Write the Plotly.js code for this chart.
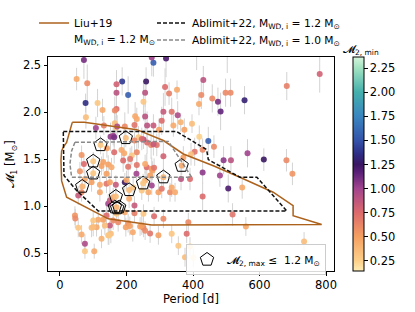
<!DOCTYPE html>
<html><head><meta charset="utf-8">
<script src="https://cdn.plot.ly/plotly-3.0.1.min.js"></script>
<style>html,body{margin:0;padding:0;background:#fff}</style>
</head><body><div id="chart" style="width:415px;height:312px"></div>
<script>
// ---- data ----
const period = [72,281,276,319,50,82,187,259,170,170,205,256,316,328,352,77,113,251,128,170,78,256,231,311,336,354,431,425,418,458,475,498,513,483,555,682,781,411,503,226,165,
363,341,306,108,132,165,169,195,224,262,281,298,374,397,152,160,236,274,291,262,419,446,463,429,405,394,163,172,224,251,
163,193,216,190,65,311,564,492,514,613,681,141,185,231,211,145,125,231,261,72,140,60,371,246,281,130,155,205,256,276,278,271,283,429,481,699,230,
95,75,120,140,168,195,200,220,246,266,276,256,296,306,331,346,364,391,336,55,65,145,150,160,224,208,150,120,506,548,429,
519,559,734,401,391,356,376,381,386,336,296,271,251,241,219,198,205,150,153,145,125,110,95,75,55,65,75,224,195,170,140,130,160,175,115,100,135,210,246,256,45,46,103,100,147,311,283,251,
122,198,100,100,67,168,170,208,250,311,366];
const m1 = [2.557,2.53,2.585,2.575,2.355,2.31,2.33,2.33,2.30,2.21,2.185,2.21,2.27,2.20,2.24,2.10,2.10,2.114,2.025,2.036,1.947,1.957,1.93,2.007,2.007,1.97,2.345,2.185,2.089,2.149,2.114,2.21,2.21,2.01,2.13,2.28,2.41,2.75,2.72,1.96,2.02,
1.894,1.86,1.91,1.834,1.86,1.883,1.84,1.85,1.866,1.86,1.86,1.816,1.816,1.88,1.741,1.75,1.734,1.653,1.653,1.68,1.741,1.696,1.635,1.603,1.58,1.553,1.734,1.85,1.70,1.71,
1.574,1.564,1.54,1.486,1.547,1.532,1.564,1.49,1.49,1.497,1.49,1.617,1.60,1.574,1.504,1.444,1.43,1.44,1.415,1.45,1.345,1.372,1.52,1.717,1.66,1.47,1.415,1.42,1.45,1.40,1.38,1.327,1.41,1.36,1.327,1.345,1.345,
1.255,1.29,1.23,1.24,1.23,1.255,1.28,1.20,1.167,1.149,1.22,1.273,1.149,1.185,1.149,1.149,1.29,1.29,1.20,1.114,1.15,1.026,1.06,1.096,1.007,1.08,1.255,1.15,1.19,1.20,1.103,
0.912,0.784,0.625,0.45,0.57,0.58,0.457,0.706,0.83,0.706,0.69,0.71,0.77,0.784,0.723,0.777,0.82,0.795,0.706,0.69,0.653,0.777,0.77,0.521,0.77,0.70,0.60,0.926,0.936,0.92,0.90,0.855,0.848,0.83,0.855,0.848,0.795,0.79,0.795,0.74,0.90,0.87,0.521,0.78,0.688,0.866,0.894,0.92,
1.653,1.728,1.479,1.351,1.21,1.103,0.99,1.174,1.245,1.31,1.433];
const m1err = [0.2,0.15,0.2,0.2,0.12,0.2,0.15,0.15,0.15,0.2,0.2,0.15,0.2,0.12,0.1,0.1,0.15,0.2,0.12,0.1,0.12,0.15,0.12,0.2,0.15,0.15,0.15,0.15,0.12,0.15,0.15,0.15,0.15,0.2,0.15,0.15,0.2,0.3,0.3,0.15,0.15,
0.1,0.12,0.15,0.12,0.1,0.15,0.12,0.15,0.12,0.15,0.12,0.12,0.12,0.1,0.15,0.1,0.12,0.15,0.12,0.12,0.12,0.15,0.12,0.12,0.15,0.12,0.1,0.12,0.12,0.1,
0.12,0.12,0.1,0.12,0.1,0.15,0.15,0.15,0.15,0.12,0.12,0.1,0.1,0.12,0.12,0.1,0.1,0.12,0.15,0.1,0.1,0.1,0.12,0.12,0.12,0.1,0.1,0.12,0.1,0.12,0.1,0.1,0.1,0.12,0.12,0.12,0.1,
0.1,0.1,0.1,0.1,0.1,0.1,0.1,0.1,0.1,0.1,0.1,0.1,0.1,0.1,0.1,0.1,0.12,0.12,0.1,0.1,0.1,0.1,0.1,0.1,0.1,0.1,0.1,0.1,0.15,0.12,0.15,
0.12,0.1,0.1,0.1,0.1,0.1,0.1,0.1,0.1,0.1,0.1,0.1,0.1,0.1,0.1,0.1,0.1,0.1,0.1,0.1,0.1,0.1,0.1,0.08,0.1,0.1,0.1,0.1,0.1,0.1,0.1,0.1,0.1,0.1,0.1,0.1,0.1,0.1,0.1,0.1,0.1,0.1,0.08,0.1,0.1,0.1,0.1,0.1,
0.1,0.1,0.1,0.1,0.1,0.1,0.1,0.1,0.1,0.1,0.1];
const m2min = [1.1,1.55,1.0,1.2,0.45,0.6,1.4,1.25,0.8,0.9,1.55,0.9,0.75,0.65,0.45,1.35,0.3,0.3,0.45,0.75,0.35,0.9,0.45,0.85,0.7,0.95,0.9,0.6,0.45,0.6,1.1,0.6,0.6,1.15,1.3,0.65,0.8,0.8,0.6,0.45,0.6,
0.4,0.45,0.75,1.0,0.65,0.35,0.3,0.6,0.7,0.9,0.85,0.5,0.5,0.35,1.05,1.0,0.3,0.6,0.7,0.75,0.25,1.55,0.6,0.6,0.7,0.35,1.1,0.95,0.6,0.95,
0.75,0.45,0.3,0.75,0.55,0.8,1.0,1.05,0.9,1.25,0.6,0.5,0.45,0.6,0.7,0.5,0.5,0.7,0.75,0.75,0.5,0.55,0.5,0.75,0.85,0.5,0.45,0.7,0.45,0.55,0.5,0.5,0.7,1.05,1.0,0.55,1.0,
0.5,0.45,0.45,0.7,0.85,1.25,0.45,0.3,0.3,0.45,1.0,0.4,0.5,0.7,0.6,0.45,0.9,0.75,0.45,0.85,0.6,1.0,0.85,0.45,0.85,0.45,0.5,0.45,1.2,0.45,0.75,
0.7,0.45,0.35,0.2,0.25,0.3,0.35,0.75,0.6,0.3,0.5,0.7,0.65,0.5,0.45,0.5,0.55,0.85,0.35,0.3,0.4,0.45,0.35,0.3,0.3,0.45,0.95,0.65,0.45,0.3,0.75,0.5,0.6,0.6,0.45,0.3,0.35,0.5,0.5,0.6,0.55,0.6,0.45,0.35,0.3,0.6,0.75,0.3,
0.3,0.35,0.3,0.3,0.4,0.35,0.4,0.35,0.3,0.4,0.45];

// pentagons: M2,max <= 1.2 Msun
const pentPeriod = [122,198,100,100,67,168,165,172,178,208,250,311,366];
const pentM1 = [1.653,1.728,1.479,1.351,1.21,1.103,0.99,0.98,0.99,1.174,1.245,1.31,1.433];

// Liu+19 contour (M_WD,i = 1.2)
const liuP = [37,73,231,311,371,461,541,641,701,701,787,276,145,115,20,5,3,5,10,20,30,37];
const liuM = [1.894,1.894,1.816,1.70,1.557,1.431,1.309,1.149,1.007,0.90,0.805,0.80,0.866,0.92,1.096,1.27,1.49,1.59,1.63,1.68,1.80,1.894];
// Ablimit+22, M_WD,i = 1.2
const ab12P = [10,351,441,446,541,592,682,115,50,12,10];
const ab12M = [1.795,1.795,1.603,1.497,1.309,1.309,0.95,0.95,1.167,1.327,1.795];
// Ablimit+22, M_WD,i = 1.0
const ab10P = [45,326,396,35,30,35,45];
const ab10M = [1.681,1.691,1.309,1.309,1.45,1.59,1.681];

const cbTicks = [0.25,0.5,0.75,1.0,1.25,1.5,1.75,2.0,2.25];

const FONT = 'DejaVu Sans, sans-serif';
const FS = 11.5;   // tick / axis title size
const LFS = 10.7;  // legend size
const cscale = [
  [0.0,'#fdedb5'],[0.047,'#fdd08a'],[0.16,'#f5a062'],[0.272,'#dc6a6c'],
  [0.385,'#a2448e'],[0.46,'#5a2078'],[0.498,'#3a1762'],[0.545,'#2e2c84'],
  [0.61,'#3453aa'],[0.723,'#3a86c0'],[0.836,'#44b0ac'],[0.949,'#a3e3c2'],[1.0,'#d6f5dc']
];

const PX = px => (px-48)/286;   // pixel -> paper x
const PY = py => (271-py)/214;  // pixel -> paper y

const traces = [
  {x: period, y: m1, type:'scatter', mode:'markers', showlegend:false,
   error_y:{type:'data', array:m1err, visible:true, color:'#d3d3d3', thickness:1, width:0},
   marker:{size:6, color:m2min, colorscale:cscale, cmin:0.146, cmax:2.364, opacity:0.9,
     colorbar:{x:PX(352.7), xanchor:'left', xpad:0, ypad:0, y:0.5, yanchor:'middle', len:1, lenmode:'fraction',
       thickness:10.5, outlinewidth:1, outlinecolor:'#000', tickvals:cbTicks, tickformat:'.2f',
       ticks:'outside', ticklen:3.5, tickcolor:'#000', tickfont:{family:FONT,size:FS,color:'#000'}}}},
  {x: pentPeriod, y: pentM1, type:'scatter', mode:'markers', legend:'legend3',
   name:'𝓜<sub>2, max</sub> ≤  1.2 M<sub>⊙</sub>',
   marker:{symbol:'pentagon-open', size:14, color:'#000', line:{width:1, color:'#000'}}},
  {x: liuP, y: liuM, type:'scatter', mode:'lines', legend:'legend',
   name:'Liu+19', line:{color:'#ad621c', width:1.5}},
  {x: ab12P, y: ab12M, type:'scatter', mode:'lines', legend:'legend2',
   name:'Ablimit+22, M<sub>WD, i</sub> = 1.2 M<sub>⊙</sub>', line:{color:'#111', width:1.5, dash:'4px,2px'}},
  {x: ab10P, y: ab10M, type:'scatter', mode:'lines', legend:'legend4',
   name:'Ablimit+22, M<sub>WD, i</sub> = 1.0 M<sub>⊙</sub>', line:{color:'#888', width:1.5, dash:'4px,2px'}}
];

const legBase = {xanchor:'left', yanchor:'middle', bgcolor:'rgba(0,0,0,0)', borderwidth:0, font:{size:LFS}};
const layout = {
  width:415, height:312,
  margin:{l:48, r:81, t:57, b:41, autoexpand:false},
  paper_bgcolor:'#fff', plot_bgcolor:'#fff',
  font:{family:FONT, size:FS, color:'#000'},
  xaxis:{range:[-36,824], tickvals:[0,200,400,600,800], ticks:'outside', ticklen:3.5, tickcolor:'#000',
    showline:true, mirror:true, linecolor:'#000', linewidth:1, showgrid:false, zeroline:false,
    tickfont:{size:FS}, title:{text:'Period [d]', font:{size:FS}, standoff:3}},
  yaxis:{range:[0.31,2.59], tickvals:[0.5,1.0,1.5,2.0,2.5], tickformat:'.1f', ticks:'outside', ticklen:3.5, tickcolor:'#000',
    showline:true, mirror:true, linecolor:'#000', linewidth:1, showgrid:false, zeroline:false,
    tickfont:{size:FS}, title:{text:'𝓜<sub>1</sub> [M<sub>⊙</sub>]', font:{size:FS}, standoff:5}},
  legend:Object.assign({x:PX(34), y:PY(23)}, legBase),
  legend2:Object.assign({x:PX(152), y:PY(23)}, legBase),
  legend4:Object.assign({x:PX(152), y:PY(40)}, legBase),
  legend3:{x:PX(186), y:PY(244), xanchor:'left', yanchor:'top',
    bgcolor:'rgba(255,255,255,0.85)', bordercolor:'#cccccc', borderwidth:1, font:{size:LFS}},
  annotations:[
    {xref:'paper', yref:'paper', x:PX(361), y:PY(50), xanchor:'center', yanchor:'middle',
     text:'𝓜<sub>2, min</sub>', showarrow:false, font:{size:LFS}},
    {xref:'paper', yref:'paper', x:PX(72), y:PY(40), xanchor:'left', yanchor:'middle',
     text:'M<sub>WD, i</sub> = 1.2 M<sub>⊙</sub>', showarrow:false, font:{size:LFS}}
  ]
};

Plotly.newPlot('chart', traces, layout, {displayModeBar:false, staticPlot:true});
</script></body></html>
